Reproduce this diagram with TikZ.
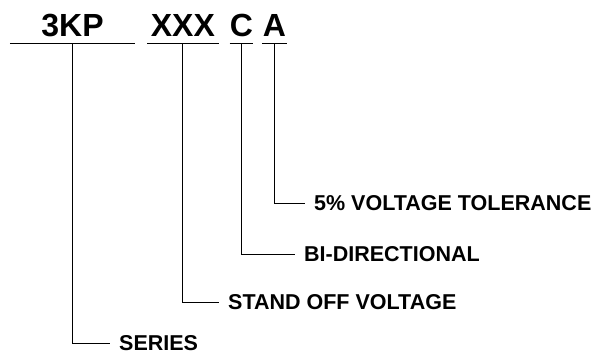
\documentclass[tikz,border=0pt]{standalone}
\usepackage{fontspec}
\setmainfont{Liberation Sans}
\usetikzlibrary{positioning}

\begin{document}
\begin{tikzpicture}[
  x=1pt, y=-1pt,
  part/.style={font=\bfseries\fontsize{32}{35}\selectfont, inner xsep=0pt, inner ysep=0pt,
    text depth=7pt, minimum width=#1, anchor=base},
  lbl/.style={font=\bfseries\fontsize{21.5}{24}\selectfont, inner xsep=9pt, inner ysep=0pt,
    text height=15.4pt, text depth=0pt, anchor=west},
  uline/.style={line width=1.2pt},
  lead/.style={line width=0.9pt}
]
\useasboundingbox (0,0) rectangle (603,354);

% part number fields
\node[part=125pt] (series) at (72.5,36) {3KP};
\node[part=71pt, right=12pt of series.base east, anchor=base west] (volt) {XXX};
\node[part=21pt] (bidir) at (241.5,36) {C};
\node[part=25pt] (tol) at (274.5,36) {A};
\foreach \p in {series,volt,bidir,tol}
  \draw[uline] (\p.south west) -- (\p.south east);

% descriptions
\node[lbl] (tolr) at (305,203) {5\% VOLTAGE TOLERANCE};
\node[lbl] (bidr) at (295,254) {BI-DIRECTIONAL};
\node[lbl] (vltr) at (219,302) {STAND OFF VOLTAGE};
\node[lbl] (serr) at (110,343) {SERIES};

\draw[lead] (tol.south) |- (tolr.west);
\draw[lead] (bidir.south) |- (bidr.west);
\draw[lead] (volt.south) |- (vltr.west);
\draw[lead] (series.south) |- (serr.west);
\end{tikzpicture}
\end{document}
